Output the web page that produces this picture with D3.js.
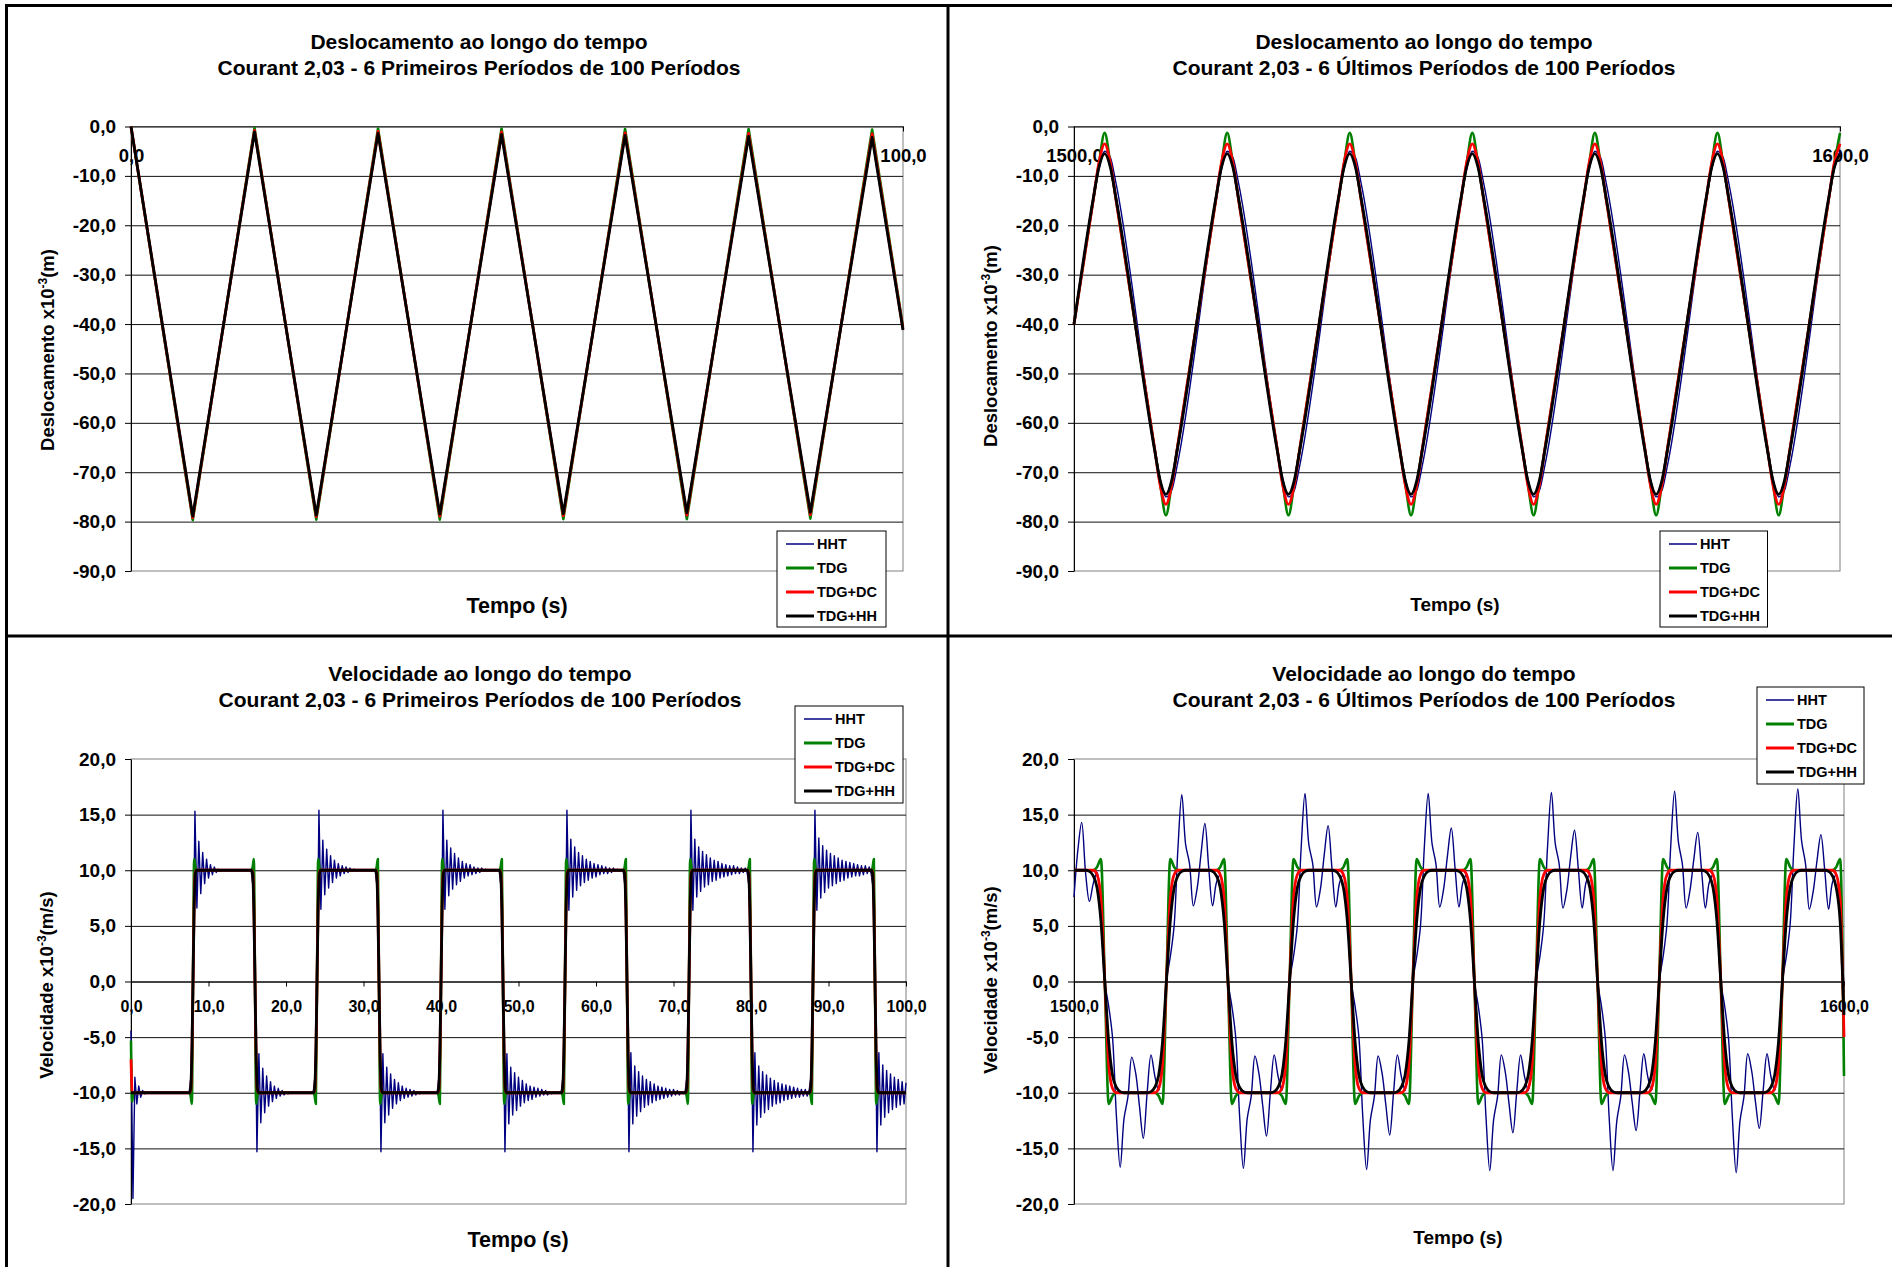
<!DOCTYPE html>
<html>
<head>
<meta charset="utf-8">
<script src="https://cdn.jsdelivr.net/npm/d3@7"></script>
<style>
  body { margin: 0; background: #fff; }
  svg { display: block; }
  text { font-family: "Liberation Sans", Arial, sans-serif; font-weight: bold; fill: #000; }
</style>
</head>
<body>
<div id="container"></div>
<script>
// ---------- data ----------

const seriesNames = ['HHT', 'TDG', 'TDG+DC', 'TDG+HH'];

// Deslocamento, first periods (vertices of the triangle waves)
const tDispFirst = [0, 8, 16, 24, 32, 40, 48, 56, 64, 72, 80, 88, 96, 100];
const dispFirstHHT = [0, -79.6, -0.4, -79.5, -0.5, -79.4, -0.6, -79.4, -0.6, -79.3, -0.7, -79.3, -0.8, -40.8];
const dispFirstTDG = [0, -79.7, -0.3, -79.6, -0.4, -79.6, -0.4, -79.5, -0.5, -79.5, -0.5, -79.4, -0.6, -40.6];
const dispFirstDC  = [0, -79.2, -0.8, -79.0, -1.0, -78.9, -1.1, -78.8, -1.3, -78.7, -1.4, -78.6, -1.5, -41.0];
const dispFirstHH  = [0, -78.9, -1.1, -78.7, -1.4, -78.5, -1.6, -78.4, -1.8, -78.2, -2.0, -78.1, -2.2, -41.2];

// Deslocamento, last periods (points around each peak / trough)
const tDispLast = [1500,
  1502.5, 1503.25, 1504, 1504.75, 1505.5,
  1510.5, 1511.25, 1512, 1512.75, 1513.5,
  1518.5, 1519.25, 1520, 1520.75, 1521.5,
  1526.5, 1527.25, 1528, 1528.75, 1529.5,
  1534.5, 1535.25, 1536, 1536.75, 1537.5,
  1542.5, 1543.25, 1544, 1544.75, 1545.5,
  1550.5, 1551.25, 1552, 1552.75, 1553.5,
  1558.5, 1559.25, 1560, 1560.75, 1561.5,
  1566.5, 1567.25, 1568, 1568.75, 1569.5,
  1574.5, 1575.25, 1576, 1576.75, 1577.5,
  1582.5, 1583.25, 1584, 1584.75, 1585.5,
  1590.5, 1591.25, 1592, 1592.75, 1593.5,
  1598.5, 1599.25, 1600];
const dispLastHHT = [-40,
  -15.5, -8.7, -5.0, -6.3, -11.6,  -64.5, -71.3, -75.0, -73.7, -68.4,
  -15.5, -8.7, -5.0, -6.3, -11.6,  -64.5, -71.3, -75.0, -73.7, -68.4,
  -15.5, -8.7, -5.0, -6.3, -11.6,  -64.5, -71.3, -75.0, -73.7, -68.4,
  -15.5, -8.7, -5.0, -6.3, -11.6,  -64.5, -71.3, -75.0, -73.7, -68.4,
  -15.5, -8.7, -5.0, -6.3, -11.6,  -64.5, -71.3, -75.0, -73.7, -68.4,
  -15.5, -8.7, -5.0, -6.3, -11.6,  -64.5, -71.3, -75.0, -73.7, -68.4,
  -15.5, -8.7, -5.0];
const dispLastTDG = [-40,
  -15.0, -7.6, -1.3, -7.6, -15.0,  -65.0, -72.4, -78.7, -72.4, -65.0,
  -15.0, -7.6, -1.3, -7.6, -15.0,  -65.0, -72.4, -78.7, -72.4, -65.0,
  -15.0, -7.6, -1.3, -7.6, -15.0,  -65.0, -72.4, -78.7, -72.4, -65.0,
  -15.0, -7.6, -1.3, -7.6, -15.0,  -65.0, -72.4, -78.7, -72.4, -65.0,
  -15.0, -7.6, -1.3, -7.6, -15.0,  -65.0, -72.4, -78.7, -72.4, -65.0,
  -15.0, -7.6, -1.3, -7.6, -15.0,  -65.0, -72.4, -78.7, -72.4, -65.0,
  -15.0, -7.6, -1.3];
const dispLastDC = [-40,
  -15.0, -7.4, -3.5, -7.4, -15.0,  -65.0, -72.6, -76.5, -72.6, -65.0,
  -15.0, -7.4, -3.5, -7.4, -15.0,  -65.0, -72.6, -76.5, -72.6, -65.0,
  -15.0, -7.4, -3.5, -7.4, -15.0,  -65.0, -72.6, -76.5, -72.6, -65.0,
  -15.0, -7.4, -3.5, -7.4, -15.0,  -65.0, -72.6, -76.5, -72.6, -65.0,
  -15.0, -7.4, -3.5, -7.4, -15.0,  -65.0, -72.6, -76.5, -72.6, -65.0,
  -15.0, -7.4, -3.5, -7.4, -15.0,  -65.0, -72.6, -76.5, -72.6, -65.0,
  -15.0, -7.4, -3.5];
const dispLastHH = [-40,
  -14.7, -8.3, -5.5, -8.3, -14.7,  -65.3, -71.7, -74.5, -71.7, -65.3,
  -14.7, -8.3, -5.5, -8.3, -14.7,  -65.3, -71.7, -74.5, -71.7, -65.3,
  -14.7, -8.3, -5.5, -8.3, -14.7,  -65.3, -71.7, -74.5, -71.7, -65.3,
  -14.7, -8.3, -5.5, -8.3, -14.7,  -65.3, -71.7, -74.5, -71.7, -65.3,
  -14.7, -8.3, -5.5, -8.3, -14.7,  -65.3, -71.7, -74.5, -71.7, -65.3,
  -14.7, -8.3, -5.5, -8.3, -14.7,  -65.3, -71.7, -74.5, -71.7, -65.3,
  -14.7, -8.3, -5.5];

// Velocidade, first periods: HHT sampled every 0.25 s (0 .. 100 s)
const velFirstStep = 0.25;
const velFirstHHT = [
  -4.4, -19.5, -8.6, -11.0, -9.4, -10.4, -9.8, -10.1, -10, -10, -10, -10, -10, -10, -10, -10,
  -10, -10, -10, -10, -10, -10, -10, -10, -10, -10, -10, -10, -10, -10, -10, -8.5,
  0, 15.3, 6.6, 12.6, 7.9, 11.6, 8.8, 11.0, 9.3, 10.5, 9.6, 10.3, 9.8, 10.1, 9.9, 10,
  10, 10, 10, 10, 10, 10, 10, 10, 10, 10, 10, 10, 10, 10, 10, 8.5,
  0, -15.3, -6.5, -12.7, -7.8, -11.8, -8.5, -11.2, -9.0, -10.8, -9.4, -10.5, -9.6, -10.3, -9.8, -10.2,
  -9.9, -10.1, -10, -10, -10, -10, -10, -10, -10, -10, -10, -10, -10, -10, -10, -8.5,
  0, 15.4, 6.5, 12.7, 7.8, 11.9, 8.4, 11.3, 8.9, 10.9, 9.3, 10.6, 9.5, 10.4, 9.7, 10.3,
  9.8, 10.2, 9.9, 10.1, 10, 10, 10, 10, 10, 10, 10, 10, 10, 10, 10, 8.5,
  0, -15.3, -6.5, -12.7, -7.7, -12.0, -8.3, -11.4, -8.8, -11.0, -9.1, -10.7, -9.4, -10.5, -9.6, -10.4,
  -9.7, -10.3, -9.8, -10.2, -9.9, -10.1, -9.9, -10, -10, -10, -10, -10, -10, -10, -10, -8.5,
  0, 15.4, 6.5, 12.7, 7.7, 12.0, 8.3, 11.5, 8.7, 11.1, 9.0, 10.8, 9.3, 10.6, 9.5, 10.5,
  9.6, 10.3, 9.7, 10.2, 9.8, 10.2, 9.9, 10.1, 9.9, 10, 10, 10, 10, 10, 10, 8.5,
  0, -15.3, -6.5, -12.8, -7.7, -12.0, -8.2, -11.6, -8.6, -11.2, -8.9, -10.9, -9.2, -10.7, -9.4, -10.6,
  -9.5, -10.4, -9.6, -10.3, -9.7, -10.2, -9.8, -10.2, -9.9, -10.1, -9.9, -10, -10, -10, -10, -8.5,
  0, 15.4, 6.4, 12.8, 7.6, 12.1, 8.2, 11.6, 8.6, 11.3, 8.9, 11.0, 9.1, 10.8, 9.3, 10.6,
  9.4, 10.5, 9.6, 10.4, 9.7, 10.3, 9.7, 10.2, 9.8, 10.2, 9.9, 10.1, 9.9, 10, 10, 8.5,
  0, -15.3, -6.4, -12.8, -7.6, -12.1, -8.1, -11.7, -8.5, -11.3, -8.8, -11.1, -9.0, -10.9, -9.2, -10.7,
  -9.4, -10.6, -9.5, -10.5, -9.6, -10.4, -9.7, -10.3, -9.7, -10.2, -9.8, -10.2, -9.9, -10.1, -9.9, -8.5,
  0, 15.4, 6.4, 12.8, 7.6, 12.1, 8.1, 11.7, 8.5, 11.4, 8.7, 11.1, 9.0, 10.9, 9.1, 10.8,
  9.3, 10.6, 9.4, 10.5, 9.5, 10.4, 9.6, 10.4, 9.7, 10.3, 9.7, 10.2, 9.8, 10.2, 9.8, 8.5,
  0, -15.3, -6.4, -12.9, -7.6, -12.2, -8.1, -11.8, -8.4, -11.5, -8.7, -11.2, -8.9, -11.0, -9.1, -10.9,
  -9.2, -10.7, -9.3, -10.6, -9.4, -10.5, -9.5, -10.4, -9.6, -10.4, -9.7, -10.3, -9.7, -10.3, -9.8, -8.5,
  0, 15.4, 6.4, 12.9, 7.5, 12.2, 8.0, 11.8, 8.4, 11.5, 8.6, 11.3, 8.8, 11.1, 9.0, 10.9,
  9.1, 10.8, 9.3, 10.7, 9.4, 10.6, 9.5, 10.5, 9.5, 10.4, 9.6, 10.4, 9.7, 10.3, 9.7, 8.5,
  0, -15.3, -6.4, -12.9, -7.5, -12.2, -8.0, -11.8, -8.3, -11.5, -8.6, -11.3, -8.8, -11.1, -9.0, -11.0,
  -9.1];

// Velocidade, first periods: TDG family, points around each switch
const tVelFirst = [0, 0.15, 0.3,
  7.55, 7.7, 7.85, 8, 8.15, 8.3, 8.45,
  15.55, 15.7, 15.85, 16, 16.15, 16.3, 16.45,
  23.55, 23.7, 23.85, 24, 24.15, 24.3, 24.45,
  31.55, 31.7, 31.85, 32, 32.15, 32.3, 32.45,
  39.55, 39.7, 39.85, 40, 40.15, 40.3, 40.45,
  47.55, 47.7, 47.85, 48, 48.15, 48.3, 48.45,
  55.55, 55.7, 55.85, 56, 56.15, 56.3, 56.45,
  63.55, 63.7, 63.85, 64, 64.15, 64.3, 64.45,
  71.55, 71.7, 71.85, 72, 72.15, 72.3, 72.45,
  79.55, 79.7, 79.85, 80, 80.15, 80.3, 80.45,
  87.55, 87.7, 87.85, 88, 88.15, 88.3, 88.45,
  95.55, 95.7, 95.85, 96, 96.15, 96.3, 96.45,
  100];
const velFirstTDG = [-5.3, -10.8, -10,
  -10, -10.3, -11, 0, 11, 10.3, 10,   10, 10.3, 11, 0, -11, -10.3, -10,
  -10, -10.3, -11, 0, 11, 10.3, 10,   10, 10.3, 11, 0, -11, -10.3, -10,
  -10, -10.3, -11, 0, 11, 10.3, 10,   10, 10.3, 11, 0, -11, -10.3, -10,
  -10, -10.3, -11, 0, 11, 10.3, 10,   10, 10.3, 11, 0, -11, -10.3, -10,
  -10, -10.3, -11, 0, 11, 10.3, 10,   10, 10.3, 11, 0, -11, -10.3, -10,
  -10, -10.3, -11, 0, 11, 10.3, 10,   10, 10.3, 11, 0, -11, -10.3, -10,
  -10];
const velFirstDC = [-7, -9.9, -10,
  -10, -9.8, -7.2, 0, 7.2, 9.8, 10,   10, 9.8, 7.2, 0, -7.2, -9.8, -10,
  -10, -9.8, -7.2, 0, 7.2, 9.8, 10,   10, 9.8, 7.2, 0, -7.2, -9.8, -10,
  -10, -9.8, -7.2, 0, 7.2, 9.8, 10,   10, 9.8, 7.2, 0, -7.2, -9.8, -10,
  -10, -9.8, -7.2, 0, 7.2, 9.8, 10,   10, 9.8, 7.2, 0, -7.2, -9.8, -10,
  -10, -9.8, -7.2, 0, 7.2, 9.8, 10,   10, 9.8, 7.2, 0, -7.2, -9.8, -10,
  -10, -9.8, -7.2, 0, 7.2, 9.8, 10,   10, 9.8, 7.2, 0, -7.2, -9.8, -10,
  -10];
const velFirstHH = [-10, -10, -10,
  -10, -9.6, -6.5, 0, 6.5, 9.6, 10,   10, 9.6, 6.5, 0, -6.5, -9.6, -10,
  -10, -9.6, -6.5, 0, 6.5, 9.6, 10,   10, 9.6, 6.5, 0, -6.5, -9.6, -10,
  -10, -9.6, -6.5, 0, 6.5, 9.6, 10,   10, 9.6, 6.5, 0, -6.5, -9.6, -10,
  -10, -9.6, -6.5, 0, 6.5, 9.6, 10,   10, 9.6, 6.5, 0, -6.5, -9.6, -10,
  -10, -9.6, -6.5, 0, 6.5, 9.6, 10,   10, 9.6, 6.5, 0, -6.5, -9.6, -10,
  -10, -9.6, -6.5, 0, 6.5, 9.6, 10,   10, 9.6, 6.5, 0, -6.5, -9.6, -10,
  -10];

// Velocidade, last periods: all series sampled every 0.5 s (1500 .. 1600 s)
const velLastStep = 0.5;
const velLastHHT = [
  7.6, 11.8, 14.3, 9.8, 7.2, 8.8, 9.8, 6.5,
  0, -2.2, -5.0, -12.0, -16.7, -12.3, -10.4, -6.8, -8.2, -11.2, -14.1, -10.0, -6.6, -8.5, -9.8, -6.5,
  0, 2.2, 5.0, 12.0, 16.8, 12.3, 10.6, 6.8, 8.4, 11.5, 14.2, 10.2, 6.8, 8.9, 9.6, 6.5,
  0, -2.2, -5.0, -12.0, -16.8, -12.3, -10.4, -6.7, -8.2, -11.1, -13.9, -10.0, -6.6, -8.5, -9.8, -6.5,
  0, 2.2, 5.0, 12.0, 16.9, 12.3, 10.6, 6.7, 8.3, 11.4, 14.0, 10.2, 6.7, 8.9, 9.6, 6.5,
  0, -2.2, -5.0, -12.1, -16.9, -12.4, -10.4, -6.7, -8.2, -11.1, -13.8, -10.0, -6.6, -8.5, -9.8, -6.5,
  0, 2.2, 5.0, 12.1, 16.9, 12.4, 10.6, 6.7, 8.3, 11.3, 13.8, 10.1, 6.7, 8.9, 9.6, 6.5,
  0, -2.2, -5.1, -12.1, -17.0, -12.4, -10.4, -6.6, -8.1, -11.0, -13.6, -9.9, -6.6, -8.5, -9.8, -6.5,
  0, 2.2, 5.1, 12.1, 17.0, 12.4, 10.6, 6.6, 8.2, 11.2, 13.6, 10.1, 6.6, 8.9, 9.6, 6.5,
  0, -2.2, -5.1, -12.2, -17.0, -12.5, -10.4, -6.6, -8.1, -10.9, -13.4, -9.9, -6.5, -8.5, -9.8, -6.5,
  0, 2.2, 5.1, 12.2, 17.1, 12.5, 10.6, 6.6, 8.2, 11.0, 13.4, 10.0, 6.6, 8.9, 9.6, 6.5,
  0, -2.2, -5.1, -12.2, -17.2, -12.5, -10.4, -6.5, -8.0, -10.8, -13.2, -9.8, -6.5, -8.5, -9.8, -6.5,
  0, 2.2, 5.1, 12.2, 17.3, 12.6, 10.6, 6.5, 8.1, 10.9, 13.2, 10.0, 6.5, 8.9, 9.6, 6.5,
  -1.0];
const velLastTDG = [
  10, 10, 10, 10, 10, 10, 10.3, 11,
  0, -11, -10.3, -10, -10, -10, -10, -10, -10, -10, -10, -10, -10, -10, -10.3, -11,
  0, 11, 10.3, 10, 10, 10, 10, 10, 10, 10, 10, 10, 10, 10, 10.3, 11,
  0, -11, -10.3, -10, -10, -10, -10, -10, -10, -10, -10, -10, -10, -10, -10.3, -11,
  0, 11, 10.3, 10, 10, 10, 10, 10, 10, 10, 10, 10, 10, 10, 10.3, 11,
  0, -11, -10.3, -10, -10, -10, -10, -10, -10, -10, -10, -10, -10, -10, -10.3, -11,
  0, 11, 10.3, 10, 10, 10, 10, 10, 10, 10, 10, 10, 10, 10, 10.3, 11,
  0, -11, -10.3, -10, -10, -10, -10, -10, -10, -10, -10, -10, -10, -10, -10.3, -11,
  0, 11, 10.3, 10, 10, 10, 10, 10, 10, 10, 10, 10, 10, 10, 10.3, 11,
  0, -11, -10.3, -10, -10, -10, -10, -10, -10, -10, -10, -10, -10, -10, -10.3, -11,
  0, 11, 10.3, 10, 10, 10, 10, 10, 10, 10, 10, 10, 10, 10, 10.3, 11,
  0, -11, -10.3, -10, -10, -10, -10, -10, -10, -10, -10, -10, -10, -10, -10.3, -11,
  0, 11, 10.3, 10, 10, 10, 10, 10, 10, 10, 10, 10, 10, 10, 10.3, 11,
  -8.5];
const velLastDC = [
  10, 10, 10, 10, 10, 10, 9.6, 7.4,
  0, -7.4, -9.6, -10, -10, -10, -10, -10, -10, -10, -10, -10, -10, -10, -9.6, -7.4,
  0, 7.4, 9.6, 10, 10, 10, 10, 10, 10, 10, 10, 10, 10, 10, 9.6, 7.4,
  0, -7.4, -9.6, -10, -10, -10, -10, -10, -10, -10, -10, -10, -10, -10, -9.6, -7.4,
  0, 7.4, 9.6, 10, 10, 10, 10, 10, 10, 10, 10, 10, 10, 10, 9.6, 7.4,
  0, -7.4, -9.6, -10, -10, -10, -10, -10, -10, -10, -10, -10, -10, -10, -9.6, -7.4,
  0, 7.4, 9.6, 10, 10, 10, 10, 10, 10, 10, 10, 10, 10, 10, 9.6, 7.4,
  0, -7.4, -9.6, -10, -10, -10, -10, -10, -10, -10, -10, -10, -10, -10, -9.6, -7.4,
  0, 7.4, 9.6, 10, 10, 10, 10, 10, 10, 10, 10, 10, 10, 10, 9.6, 7.4,
  0, -7.4, -9.6, -10, -10, -10, -10, -10, -10, -10, -10, -10, -10, -10, -9.6, -7.4,
  0, 7.4, 9.6, 10, 10, 10, 10, 10, 10, 10, 10, 10, 10, 10, 9.6, 7.4,
  0, -7.4, -9.6, -10, -10, -10, -10, -10, -10, -10, -10, -10, -10, -10, -9.6, -7.4,
  0, 7.4, 9.6, 10, 10, 10, 10, 10, 10, 10, 10, 10, 10, 10, 9.6, 7.4,
  -5];
const velLastHH = [
  10, 10, 10, 10, 9.9, 9.5, 8.4, 5.4,
  0, -5.4, -8.4, -9.5, -9.9, -10, -10, -10, -10, -10, -10, -10, -9.9, -9.5, -8.4, -5.4,
  0, 5.4, 8.4, 9.5, 9.9, 10, 10, 10, 10, 10, 10, 10, 9.9, 9.5, 8.4, 5.4,
  0, -5.4, -8.4, -9.5, -9.9, -10, -10, -10, -10, -10, -10, -10, -9.9, -9.5, -8.4, -5.4,
  0, 5.4, 8.4, 9.5, 9.9, 10, 10, 10, 10, 10, 10, 10, 9.9, 9.5, 8.4, 5.4,
  0, -5.4, -8.4, -9.5, -9.9, -10, -10, -10, -10, -10, -10, -10, -9.9, -9.5, -8.4, -5.4,
  0, 5.4, 8.4, 9.5, 9.9, 10, 10, 10, 10, 10, 10, 10, 9.9, 9.5, 8.4, 5.4,
  0, -5.4, -8.4, -9.5, -9.9, -10, -10, -10, -10, -10, -10, -10, -9.9, -9.5, -8.4, -5.4,
  0, 5.4, 8.4, 9.5, 9.9, 10, 10, 10, 10, 10, 10, 10, 9.9, 9.5, 8.4, 5.4,
  0, -5.4, -8.4, -9.5, -9.9, -10, -10, -10, -10, -10, -10, -10, -9.9, -9.5, -8.4, -5.4,
  0, 5.4, 8.4, 9.5, 9.9, 10, 10, 10, 10, 10, 10, 10, 9.9, 9.5, 8.4, 5.4,
  0, -5.4, -8.4, -9.5, -9.9, -10, -10, -10, -10, -10, -10, -10, -9.9, -9.5, -8.4, -5.4,
  0, 5.4, 8.4, 9.5, 9.9, 10, 10, 10, 10, 10, 10, 10, 9.9, 9.5, 8.4, 5.4,
  -3];

// tick values
const dispTicks = d3.range(-90, 1, 10);
const velTicks = d3.range(-20, 21, 5);
const firstTimeTicks = d3.range(0, 101, 10);

// ---------- drawing ----------

const width = 1892;
const height = 1267;

const colors = {HHT: '#000080', TDG: '#008000', DC: '#ff0000', HH: '#000000'};
const widths = {HHT: 1.4, TDG: 2.6, DC: 2.8, HH: 2.8};
const keys = ['HHT', 'TDG', 'DC', 'HH'];

const fmt = v => v.toFixed(1).replace('.', ',');
const stepTimes = (n, start, step) => d3.range(n).map(i => start + i * step);

const svg = d3.select('#container')
              .append('svg')
              .attr('width', width)
              .attr('height', height);

function drawPanel(p) {
    const g = svg.append('g');
    const x = d3.scaleLinear().domain(p.xDomain).range([p.left, p.right]);
    const y = d3.scaleLinear().domain(p.yDomain).range([p.bottom, p.top]);
    const innerTicks = p.yTicks.filter(v => v > p.yDomain[0] && v < p.yDomain[1]);

    //plot area border
    g.append('rect')
     .attr('x', p.left)
     .attr('y', p.top)
     .attr('width', p.right - p.left)
     .attr('height', p.bottom - p.top)
     .attr('fill', 'none')
     .attr('stroke', '#808080');

    //gridlines
    g.append('g')
     .attr('transform', `translate(${p.left},0)`)
     .call(d3.axisLeft(y).tickValues(innerTicks).tickSize(-(p.right - p.left)).tickFormat(''))
     .call(s => s.select('.domain').remove())
     .call(s => s.selectAll('line').attr('stroke', '#111'));

    //y axis
    g.append('g')
     .attr('transform', `translate(${p.left},0)`)
     .call(d3.axisLeft(y).tickValues(p.yTicks).tickSize(6).tickSizeOuter(0).tickPadding(9).tickFormat(fmt))
     .call(s => s.selectAll('text').style('font-size', '19px'))
     .call(s => s.selectAll('line, path').attr('stroke', '#000'));

    //x axis crossing at 0
    g.append('g')
     .attr('transform', `translate(0,${y(0)})`)
     .call(d3.axisBottom(x).tickValues(p.xTicks).tickSize(5).tickSizeOuter(0).tickPadding(p.xPad).tickFormat(fmt))
     .call(s => s.selectAll('text').style('font-size', p.xFont + 'px'))
     .call(s => s.selectAll('line, path').attr('stroke', '#000'));

    //series, first one at the bottom
    keys.forEach(k => {
        const s = p.series[k];
        const line = d3.line()
                       .x((d, i) => x(s.t[i]))
                       .y(d => y(d))
                       .curve(s.curve);
        g.append('path')
         .datum(s.v)
         .attr('d', line)
         .attr('fill', 'none')
         .attr('stroke', colors[k])
         .attr('stroke-width', widths[k])
         .attr('stroke-linejoin', 'round');
    });

    //titles
    p.title.forEach((t, i) => {
        g.append('text')
         .attr('x', p.titleX)
         .attr('y', p.titleY[i])
         .attr('text-anchor', 'middle')
         .style('font-size', '21px')
         .text(t);
    });

    //x axis title
    g.append('text')
     .attr('x', p.xTitle[0])
     .attr('y', p.xTitle[1])
     .attr('text-anchor', 'middle')
     .style('font-size', p.xTitle[2] + 'px')
     .text('Tempo (s)');

    //y axis title with superscript
    const yt = g.append('text')
                .attr('transform', `translate(${p.yTitle[0]},${p.yTitle[1]}) rotate(-90)`)
                .attr('text-anchor', 'middle')
                .attr('dy', '0.35em')
                .style('font-size', '18.5px');
    yt.append('tspan').text(p.yLabel[0]);
    yt.append('tspan').attr('dy', -7).style('font-size', '12px').text('-3');
    yt.append('tspan').attr('dy', 7).text(p.yLabel[1]);

    //legend
    const L = p.legend;
    const lg = g.append('g');
    lg.append('rect')
      .attr('x', L[0])
      .attr('y', L[1])
      .attr('width', L[2])
      .attr('height', L[3])
      .attr('fill', '#fff')
      .attr('stroke', '#000');
    keys.forEach((k, i) => {
        const cy = L[1] + 13 + 24 * i;
        lg.append('line')
          .attr('x1', L[0] + 9)
          .attr('x2', L[0] + 37)
          .attr('y1', cy)
          .attr('y2', cy)
          .attr('stroke', colors[k])
          .attr('stroke-width', k === 'HHT' ? 1.5 : 3);
        lg.append('text')
          .attr('x', L[0] + 40)
          .attr('y', cy + 5)
          .style('font-size', '14.5px')
          .text(seriesNames[i]);
    });
}

const lin = d3.curveLinear;
const mono = d3.curveMonotoneX;
const tFirstHHT = stepTimes(velFirstHHT.length, 0, velFirstStep);
const tLast = stepTimes(velLastHH.length, 1500, velLastStep);

drawPanel({
    xDomain: [0, 100], yDomain: [-90, 0], left: 131, right: 903, top: 126.5, bottom: 571,
    yTicks: dispTicks, xTicks: [0, 100], xPad: 17, xFont: 18.5,
    title: ['Deslocamento ao longo do tempo', 'Courant 2,03 - 6 Primeiros Períodos de 100 Períodos'],
    titleX: 479, titleY: [49, 75],
    xTitle: [517, 613, 21.5], yTitle: [48, 350], yLabel: ['Deslocamento x10', '(m)'],
    legend: [777, 531, 109, 96],
    series: {
        HHT: {t: tDispFirst, v: dispFirstHHT, curve: lin},
        TDG: {t: tDispFirst, v: dispFirstTDG, curve: lin},
        DC: {t: tDispFirst, v: dispFirstDC, curve: lin},
        HH: {t: tDispFirst, v: dispFirstHH, curve: lin}
    }
});

drawPanel({
    xDomain: [1500, 1600], yDomain: [-90, 0], left: 1074, right: 1840, top: 126.5, bottom: 571,
    yTicks: dispTicks, xTicks: [1500, 1600], xPad: 17, xFont: 18.5,
    title: ['Deslocamento ao longo do tempo', 'Courant 2,03 - 6 Últimos Períodos de 100 Períodos'],
    titleX: 1424, titleY: [49, 75],
    xTitle: [1455, 611, 19], yTitle: [991, 346], yLabel: ['Deslocamento x10', '(m)'],
    legend: [1660, 531, 107.5, 96],
    series: {
        HHT: {t: tDispLast, v: dispLastHHT, curve: mono},
        TDG: {t: tDispLast, v: dispLastTDG, curve: mono},
        DC: {t: tDispLast, v: dispLastDC, curve: mono},
        HH: {t: tDispLast, v: dispLastHH, curve: mono}
    }
});

drawPanel({
    xDomain: [0, 100], yDomain: [-20, 20], left: 131, right: 906, top: 759, bottom: 1204,
    yTicks: velTicks, xTicks: firstTimeTicks, xPad: 13.7, xFont: 16,
    title: ['Velocidade ao longo do tempo', 'Courant 2,03 - 6 Primeiros Períodos de 100 Períodos'],
    titleX: 480, titleY: [681, 707],
    xTitle: [518, 1247, 21.5], yTitle: [47, 985], yLabel: ['Velocidade x10', '(m/s)'],
    legend: [795, 706, 108, 97],
    series: {
        HHT: {t: tFirstHHT, v: velFirstHHT, curve: lin},
        TDG: {t: tVelFirst, v: velFirstTDG, curve: mono},
        DC: {t: tVelFirst, v: velFirstDC, curve: mono},
        HH: {t: tVelFirst, v: velFirstHH, curve: mono}
    }
});

drawPanel({
    xDomain: [1500, 1600], yDomain: [-20, 20], left: 1074, right: 1844, top: 759, bottom: 1204,
    yTicks: velTicks, xTicks: [1500, 1600], xPad: 13.7, xFont: 16,
    title: ['Velocidade ao longo do tempo', 'Courant 2,03 - 6 Últimos Períodos de 100 Períodos'],
    titleX: 1424, titleY: [681, 707],
    xTitle: [1458, 1244, 19], yTitle: [991, 980], yLabel: ['Velocidade x10', '(m/s)'],
    legend: [1757, 687, 107, 97],
    series: {
        HHT: {t: tLast, v: velLastHHT, curve: d3.curveCatmullRom.alpha(0.5)},
        TDG: {t: tLast, v: velLastTDG, curve: mono},
        DC: {t: tLast, v: velLastDC, curve: mono},
        HH: {t: tLast, v: velLastHH, curve: mono}
    }
});

//panel frame lines
const frame = [[5, 5.5, width, 5.5], [6.5, 5, 6.5, height], [948, 5, 948, height], [5, 636, width, 636]];
svg.selectAll('.frame')
   .data(frame)
   .enter()
   .append('line')
   .attr('class', 'frame')
   .attr('x1', d => d[0])
   .attr('y1', d => d[1])
   .attr('x2', d => d[2])
   .attr('y2', d => d[3])
   .attr('stroke', '#000')
   .attr('stroke-width', 3);
</script>
</body>
</html>
